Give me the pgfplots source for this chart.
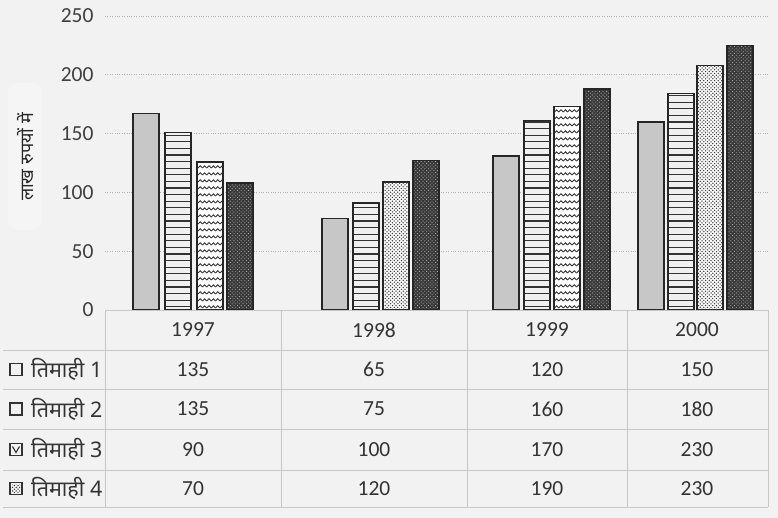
\documentclass[border=0pt]{standalone}
\usepackage{pgfplots}
\pgfplotsset{compat=1.18}
\usepackage{fontspec}
\setmainfont{Carlito}
\newfontfamily\devfont[Script=Devanagari]{Noto Sans}
\usetikzlibrary{patterns}
\pgfdeclarepatternformonly{hstripes}{\pgfqpoint{-1pt}{-1pt}}{\pgfqpoint{11pt}{1pt}}{\pgfqpoint{10pt}{6.6pt}}{%
  \pgfsetlinewidth{1.2pt}\pgfpathmoveto{\pgfqpoint{-1pt}{0pt}}\pgfpathlineto{\pgfqpoint{11pt}{0pt}}\pgfusepath{stroke}}
\pgfdeclarepatternformonly{zigzag}{\pgfqpoint{-1pt}{-1pt}}{\pgfqpoint{5.4pt}{3.2pt}}{\pgfqpoint{4.4pt}{7pt}}{%
  \pgfsetlinewidth{0.9pt}\pgfpathmoveto{\pgfqpoint{0pt}{0pt}}\pgfpathlineto{\pgfqpoint{2.2pt}{2.2pt}}\pgfpathlineto{\pgfqpoint{4.4pt}{0pt}}\pgfusepath{stroke}}
\pgfdeclarepatternformonly{ddots}{\pgfqpoint{-1pt}{-1pt}}{\pgfqpoint{2.8pt}{2.8pt}}{\pgfqpoint{3.6pt}{3.6pt}}{%
  \pgfpathcircle{\pgfqpoint{0pt}{0pt}}{0.75pt}\pgfpathcircle{\pgfqpoint{1.8pt}{1.8pt}}{0.75pt}\pgfusepath{fill}}
\pgfdeclarepatternformonly{sdots}{\pgfqpoint{-1pt}{-1pt}}{\pgfqpoint{2.8pt}{2.8pt}}{\pgfqpoint{3.6pt}{3.6pt}}{%
  \pgfpathcircle{\pgfqpoint{0pt}{0pt}}{0.55pt}\pgfpathcircle{\pgfqpoint{1.8pt}{1.8pt}}{0.55pt}\pgfusepath{fill}}
\begin{document}
\begin{tikzpicture}
\begin{scope}[x=1pt,y=-1pt]
\fill[black!5] (0,0) rectangle (778,518);
\fill[white,opacity=0.3,rounded corners=10pt] (8,83) rectangle (42,230);
\node[rotate=90, text=black!85] at (26,157) {\devfont\fontsize{18}{20}\selectfont लाख रुपयों में};
\end{scope}
\begin{axis}[at={(105pt,-310pt)}, anchor=south west, scale only axis,
  width=663pt, height=294pt, xmin=105, xmax=768, ymin=0, ymax=250,
  axis line style={draw=none}, major tick length=0pt, xtick=\empty,
  ytick={0,50,100,150,200,250}, ymajorgrids,
  grid style={dotted, line width=0.9pt, black!30},
  /pgf/number format/assume math mode=true,
  yticklabel style={font=\fontsize{21.5}{24}\selectfont, text=black!75, xshift=-8pt},
  clip=false,
  every axis plot/.append style={ybar, bar width=26, bar shift=0pt, line width=1.4pt, draw=black!85}]
\addplot[fill=black!22] coordinates {(146,167) (335,78) (506,131) (651,160)};
\addplot[preaction={fill=white!94!black}, pattern=hstripes, pattern color=black!80] coordinates {(178,151) (366,91) (537,161) (681,184)};
\addplot[preaction={fill=white}, pattern=zigzag, pattern color=black!80] coordinates {(210,126) (567,173)};
\addplot[preaction={fill=white}, pattern=ddots, pattern color=black!80] coordinates {(396,109) (710,208)};
\addplot[preaction={fill=black!78}, pattern=sdots, pattern color=black!30] coordinates {(240,108) (426,127) (597,188) (740,225)};
\end{axis}
\begin{scope}[x=1pt,y=-1pt]
\draw[black!22, line width=1pt] (105,310) -- (768,310);
\foreach \yy in {350,389,429,470,507} \draw[black!22, line width=1pt] (3,\yy) -- (768,\yy);
\foreach \xx in {105,281,467,627,768} \draw[black!22, line width=1pt] (\xx,310) -- (\xx,507);
\tikzset{val/.style={text=black!80, font=\fontsize{21.5}{24}\selectfont}}
\node[val] at (193,330) {1997};
\node[val] at (374,330) {1998};
\node[val] at (547,330) {1999};
\node[val] at (697,330) {2000};
% row 1
\node[val] at (193,369.5) {135};
\node[val] at (374,369.5) {65};
\node[val] at (547,369.5) {120};
\node[val] at (697,369.5) {150};
% row 2
\node[val] at (193,409) {135};
\node[val] at (374,409) {75};
\node[val] at (547,409) {160};
\node[val] at (697,409) {180};
% row 3
\node[val] at (193,449.5) {90};
\node[val] at (374,449.5) {100};
\node[val] at (547,449.5) {170};
\node[val] at (697,449.5) {230};
% row 4
\node[val] at (193,488.5) {70};
\node[val] at (374,488.5) {120};
\node[val] at (547,488.5) {190};
\node[val] at (697,488.5) {230};
% row labels
\tikzset{lab/.style={text=black!80, anchor=west, inner sep=0pt}}
\node[lab] at (31,369.5) {\devfont\fontsize{21.5}{24}\selectfont तिमाही 1};
\node[lab] at (31,409) {\devfont\fontsize{21.5}{24}\selectfont तिमाही 2};
\node[lab] at (31,449.5) {\devfont\fontsize{21.5}{24}\selectfont तिमाही 3};
\node[lab] at (31,488.5) {\devfont\fontsize{21.5}{24}\selectfont तिमाही 4};
\draw[black!80, line width=1.1pt] (10,363.5) rectangle (22,375.5);
\draw[black!80, line width=1.1pt] (10,403) rectangle (22,415);
\draw[black!80, line width=1.1pt] (10,443.5) rectangle (22,455.5);
\draw[black!80, line width=1.1pt] (12.5,446.5) -- (16,452.5) -- (19.5,446.5);
\fill[pattern=ddots, pattern color=black!80] (12,484.5) rectangle (20,492.5);
\draw[black!80, line width=1.1pt] (10,482.5) rectangle (22,494.5);
\end{scope}
\end{tikzpicture}
\end{document}
